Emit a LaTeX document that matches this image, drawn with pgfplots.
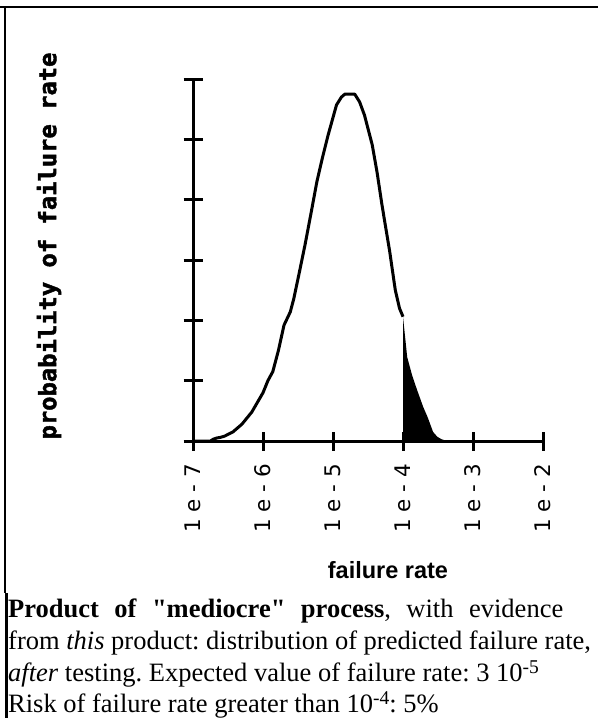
\documentclass[border=0pt]{standalone}
\usepackage{fontspec}
\setmainfont{Liberation Serif}
\newfontfamily\ylabfont{DejaVu Sans Mono}[BoldFeatures={FakeBold=1.8}]
\newfontfamily\helv{Liberation Sans}
\newfontfamily\tickfont{DejaVu Sans}
\usepackage{pgfplots}
\pgfplotsset{compat=1.18}
\newcommand\sups[1]{\raisebox{0.27em}{\fontsize{19.5bp}{20bp}\selectfont #1}}
\begin{document}
\frenchspacing
\begin{tikzpicture}
% frame
\draw[line width=2.5bp] (0,-7bp) -- (598bp,-7bp);
\draw[line width=2bp] (4.5bp,-6bp) -- (4.5bp,-593bp);
\draw[line width=3bp] (6bp,-593bp) -- (6bp,-718bp);
\begin{axis}[
  at={(193bp,-441bp)}, anchor=south west,
  scale only axis, width=350bp, height=362bp,
  xmin=-7, xmax=-2, ymin=0, ymax=6,
  axis x line*=bottom, axis y line*=left,
  axis line style={line width=3bp, black},
  xtick={-7,-6,-5,-4,-3,-2},
  xticklabels={1 e - 7,1 e - 6,1 e - 5,1 e - 4,1 e - 3,1 e - 2},
  ytick={0,1,2,3,4,5,6}, yticklabels={},
  tick align=center, major tick length=19bp,
  tick style={line width=3bp, black},
  xticklabel style={rotate=90, anchor=east, font=\tickfont\fontsize{21.5bp}{22bp}\selectfont},
  xticklabel shift=10bp,
  clip=false,
]
\addplot[fill=black, draw=none] coordinates {
(-4.0,0) (-4.0,2.06) (-3.94,1.39) (-3.87,1.09) (-3.80,0.85) (-3.71,0.56) (-3.65,0.40) (-3.57,0.15) (-3.51,0.07) (-3.45,0.03) (-3.37,0)
} -- cycle;
\addplot[black, line width=3bp, line join=round] coordinates {
(-7,0) (-6.75,0) (-6.71,0.03) (-6.66,0.05) (-6.61,0.06) (-6.55,0.08) (-6.43,0.15) (-6.3,0.28) (-6.16,0.48) (-6.0,0.80) (-5.93,1.0) (-5.86,1.15) (-5.78,1.5) (-5.70,1.92) (-5.61,2.14) (-5.56,2.36) (-5.48,2.8) (-5.40,3.25) (-5.31,3.8) (-5.23,4.30) (-5.15,4.7) (-5.07,5.07) (-4.95,5.57) (-4.88,5.70) (-4.83,5.75) (-4.69,5.75) (-4.62,5.62) (-4.55,5.40) (-4.44,4.91) (-4.37,4.45) (-4.30,3.91) (-4.19,3.14) (-4.11,2.5) (-4.05,2.2) (-4.0,2.06)
};
\addplot[black, line width=3bp] coordinates {(-4.0,0) (-3.37,0)};
\end{axis}
% labels
\node[rotate=90, font=\ylabfont\bfseries\fontsize{23.8bp}{24bp}\selectfont] at (49bp,-246bp) {probability of failure rate};
\node[anchor=base, font=\helv\bfseries\fontsize{23.5bp}{24bp}\selectfont] at (388bp,-578bp) {failure rate};
\begin{scope}[every node/.style={anchor=base west, inner sep=0pt, font=\fontsize{26.5bp}{32bp}\selectfont}]
\node at (8bp,-617bp) {\textbf{Product\hspace{15.5bp}of\hspace{15.5bp}\textquotedbl mediocre\textquotedbl\hspace{15.5bp}process},\hspace{15.5bp}with\hspace{15.5bp}evidence};
\node at (8bp,-649bp) {from \textit{this} product: distribution of predicted failure rate,};
\node at (8bp,-681bp) {\textit{after} testing. Expected value of failure rate: 3 10\sups{-5}};
\node at (8bp,-712bp) {Risk of failure rate greater than 10\sups{-4}: 5\%};
\end{scope}
\pgfresetboundingbox
\useasboundingbox (0,0) rectangle (598bp,-718bp);
\end{tikzpicture}
\end{document}
